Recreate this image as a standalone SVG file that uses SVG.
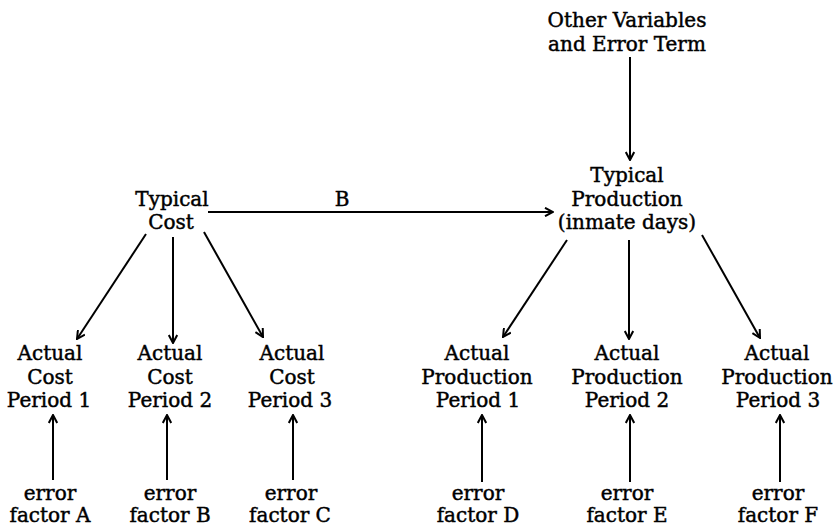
<svg xmlns="http://www.w3.org/2000/svg" width="838" height="526" viewBox="0 0 838 526">
<style>
text{font-family:"DejaVu Serif","Liberation Serif",serif;font-size:20px;fill:#000;stroke:#000;stroke-width:0.45;text-anchor:middle}
.c line{stroke:#000;stroke-width:2;fill:none;marker-end:url(#ah)}
</style>
<defs>
<marker id="ah" viewBox="0 0 10 10" refX="9" refY="5" markerWidth="10" markerHeight="10" markerUnits="userSpaceOnUse" orient="auto">
<path d="M1,0.8 L9,5 L1,9.2" fill="none" stroke="#000" stroke-width="2"/>
</marker>
</defs>
<rect width="838" height="526" fill="#fff"/>
<g id="other"><text x="627" y="27">Other Variables</text><text x="627" y="51">and Error Term</text></g>
<g id="typProd"><text x="627" y="182">Typical</text><text x="627" y="205.5">Production</text><text x="627" y="229">(inmate days)</text></g>
<g id="typCost"><text x="172" y="206">Typical</text><text x="171" y="229">Cost</text></g>
<g id="ac1"><text x="50" y="360">Actual</text><text x="50" y="384">Cost</text><text x="49" y="407">Period 1</text></g>
<g id="ac2"><text x="170" y="360">Actual</text><text x="170" y="384">Cost</text><text x="170" y="407">Period 2</text></g>
<g id="ac3"><text x="292" y="360">Actual</text><text x="292" y="384">Cost</text><text x="290" y="407">Period 3</text></g>
<g id="ap1"><text x="477" y="360">Actual</text><text x="477" y="383.5">Production</text><text x="478" y="407">Period 1</text></g>
<g id="ap2"><text x="627" y="360">Actual</text><text x="627" y="383.5">Production</text><text x="627" y="407">Period 2</text></g>
<g id="ap3"><text x="777" y="360">Actual</text><text x="777" y="383.5">Production</text><text x="778" y="407">Period 3</text></g>
<g id="efA"><text x="50" y="499.5">error</text><text x="50" y="521.5">factor A</text></g>
<g id="efB"><text x="170" y="499.5">error</text><text x="170" y="521.5">factor B</text></g>
<g id="efC"><text x="291" y="499.5">error</text><text x="290" y="521.5">factor C</text></g>
<g id="efD"><text x="478" y="499.5">error</text><text x="478" y="521.5">factor D</text></g>
<g id="efE"><text x="627" y="499.5">error</text><text x="627" y="521.5">factor E</text></g>
<g id="efF"><text x="778" y="499.5">error</text><text x="778" y="521.5">factor F</text></g>
<g id="connectors" class="c">
<line x1="630" y1="57" x2="630" y2="160"/>
<line x1="208" y1="212" x2="553" y2="212"/>
<text x="342" y="206">B</text>
<line x1="146" y1="234" x2="77" y2="339"/>
<line x1="173" y1="237" x2="173" y2="343"/>
<line x1="204" y1="232" x2="263" y2="337"/>
<line x1="567" y1="240" x2="503" y2="337"/>
<line x1="629" y1="240" x2="629" y2="339"/>
<line x1="702" y1="235" x2="760" y2="338"/>
<line x1="53" y1="480" x2="53" y2="415"/>
<line x1="167" y1="480" x2="167" y2="415"/>
<line x1="293" y1="480" x2="293" y2="415"/>
<line x1="482" y1="482" x2="482" y2="415"/>
<line x1="630" y1="482" x2="630" y2="415"/>
<line x1="780" y1="482" x2="780" y2="415"/>
</g>
</svg>
